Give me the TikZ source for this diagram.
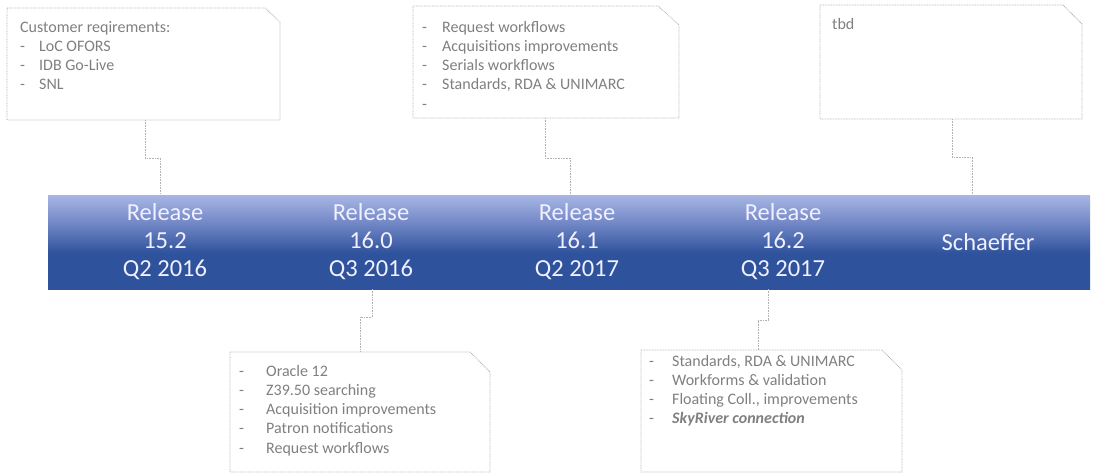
\documentclass[tikz,border=0pt]{standalone}
\usepackage{fontspec}
\setmainfont{Carlito}
\usetikzlibrary{calc}
\definecolor{bdark}{RGB}{46,82,156}
\definecolor{bmid}{RGB}{118,138,200}
\definecolor{blight}{RGB}{168,182,228}
\definecolor{txtgray}{RGB}{127,127,127}
\definecolor{dotgray}{RGB}{178,178,178}
\pgfdeclareverticalshading{barshade}{100bp}{color(0bp)=(bdark); color(44bp)=(bdark); color(61bp)=(bmid); color(75bp)=(blight); color(100bp)=(blight)}
\newcommand{\itm}[2]{\makebox[#1][l]{-}#2}
\begin{document}
\begin{tikzpicture}[x=1pt,y=-1pt,
  seg/.style={draw=none, shading=barshade, minimum height=94pt, inner sep=0pt, outer sep=0pt},
  rel/.style={text=white!94!blue, align=center, font=\fontsize{24.5}{28}\selectfont, inner sep=0pt},
  cbox/.style={draw=none, inner sep=0pt, outer sep=0pt, anchor=north west},
  dotline/.style={draw=dotgray, line width=0.8pt, dash pattern=on 0.8pt off 0.8pt},
  txt/.style={text=txtgray, anchor=base west, inner sep=0pt, font=\fontsize{16}{19.3}\selectfont}
]
\useasboundingbox (0,0) rectangle (1097,474);

% timeline bar segments
\node[seg, minimum width=206pt] (s1) at (151,242) {};
\node[seg, minimum width=205pt] (s2) at (356.5,242) {};
\node[seg, minimum width=206pt] (s3) at (562,242) {};
\node[seg, minimum width=206pt] (s4) at (768,242) {};
\node[seg, minimum width=219pt] (s5) at (980.5,242) {};

\node[rel] (r1) at (165,242) {Release\\15.2\\Q2 2016};
\node[rel] (r2) at (371,242) {Release\\16.0\\Q3 2016};
\node[rel] (r3) at (577,242) {Release\\16.1\\Q2 2017};
\node[rel] (r4) at (783,242) {Release\\16.2\\Q3 2017};
\node[rel] (r5) at (988,242) {Schaeffer};

% callout boxes (frames)
\node[cbox, minimum width=273pt, minimum height=112pt] (b1) at (7,8) {};
\node[cbox, minimum width=266pt, minimum height=112pt] (b2) at (413,6) {};
\node[cbox, minimum width=262pt, minimum height=114pt] (b3) at (820,5) {};
\node[cbox, minimum width=260pt, minimum height=120pt] (b4) at (230,352) {};
\node[cbox, minimum width=261pt, minimum height=122pt] (b5) at (641,350) {};

\draw[dotline] (b1.north west) -- ($(b1.north east)+(-15,0)$) -- ($(b1.north east)+(0,14)$) -- (b1.south east) -- (b1.south west) -- cycle;
\draw[dotline] (b2.north west) -- ($(b2.north east)+(-21,0)$) -- ($(b2.north east)+(0,19)$) -- (b2.south east) -- (b2.south west) -- cycle;
\draw[dotline] (b3.north west) -- ($(b3.north east)+(-19,0)$) -- ($(b3.north east)+(0,19)$) -- (b3.south east) -- (b3.south west) -- cycle;
\draw[dotline] (b4.north west) -- ($(b4.north east)+(-20,0)$) -- ($(b4.north east)+(0,20)$) -- (b4.south east) -- (b4.south west) -- cycle;
\draw[dotline] (b5.north west) -- ($(b5.north east)+(-20,0)$) -- ($(b5.north east)+(0,20)$) -- (b5.south east) -- (b5.south west) -- cycle;

% callout texts
\node[txt] (t1) at (20,32) {\begin{tabular}[t]{@{}l@{}}Customer reqirements:\\
 \itm{19pt}{LoC OFORS}\\ \itm{19pt}{IDB Go-Live}\\ \itm{19pt}{SNL}\end{tabular}};
\node[txt] (t2) at (422,32) {\begin{tabular}[t]{@{}l@{}}\itm{20pt}{Request workflows}\\
 \itm{20pt}{Acquisitions improvements}\\ \itm{20pt}{Serials workflows}\\ \itm{20pt}{Standards, RDA \& UNIMARC}\\ -\end{tabular}};
\node[txt] (t3) at (832,29) {tbd};
\node[txt] (t4) at (239,376) {\begin{tabular}[t]{@{}l@{}}\itm{27pt}{Oracle 12}\\
 \itm{27pt}{Z39.50 searching}\\ \itm{27pt}{Acquisition improvements}\\ \itm{27pt}{Patron notifications}\\ \itm{27pt}{Request workflows}\end{tabular}};
\node[txt] (t5) at (649,366) {\begin{tabular}[t]{@{}l@{}}\itm{23pt}{Standards, RDA \& UNIMARC}\\
 \itm{23pt}{Workforms \& validation}\\ \itm{23pt}{Floating Coll., improvements}\\ \itm{23pt}{\textbf{\textit{SkyRiver connection}}}\end{tabular}};

% connectors
\draw[dotline] ([xshift=1.5pt]b1.south) -- ++(0,38) -| ([xshift=9pt]s1.north);
\draw[dotline] ([xshift=-1pt]b2.south) -- ++(0,40) -| ([xshift=8.5pt]s3.north);
\draw[dotline] ([xshift=1pt]b3.south) -- ++(0,38) -| ([xshift=-8.5pt]s5.north);
\draw[dotline] ([xshift=15.5pt]s2.south) -- ++(0,28) -| (b4.north);
\draw[dotline] (s4.south) -- ++(0,31) -| ([xshift=-13.5pt]b5.north);
\end{tikzpicture}
\end{document}
